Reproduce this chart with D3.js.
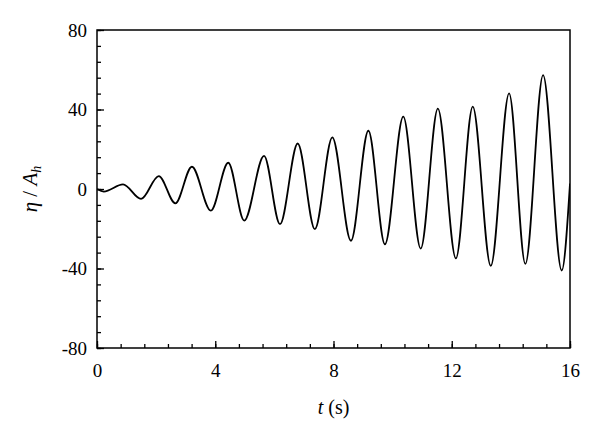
<!DOCTYPE html>
<html>
<head>
<meta charset="utf-8">
<style>
  body { margin: 0; background: #fff; }
  svg text { font-family: "Liberation Serif", "DejaVu Serif", serif; fill: #000; }
</style>
</head>
<body>
<svg id="chart" width="600" height="434"></svg>
<script src="https://cdn.jsdelivr.net/npm/d3@7"></script>
<script>
// extrema of the wave (t in s, eta/A_h)
var times = [0, 0.23, 0.88, 1.49, 2.09, 2.65, 3.21, 3.85, 4.44, 4.98, 5.65, 6.19, 6.79, 7.37,
             7.96, 8.59, 9.18, 9.74, 10.36, 10.95, 11.53, 12.14, 12.71, 13.32, 13.94, 14.49,
             15.09, 15.72, 16];
var etas = [0, -1.3, 2.3, -5, 6.5, -7.2, 11.2, -10.9, 13.2, -15.9, 16.7, -17.7, 22.9, -20.2,
            26, -26, 29.3, -27.8, 36.4, -30, 40.4, -34.9, 41.4, -38.7, 48.1, -37.7,
            57.3, -41, 2.8];
var xTicks = [0, 4, 8, 12, 16];
var yTicks = [-80, -40, 0, 40, 80];

var margin = { left: 97, right: 30, top: 30, bottom: 86 };
var W = 600, H = 434;
var svg = d3.select('#chart');

var x = d3.scaleLinear().domain([0, 16]).range([margin.left, W - margin.right]);
var y = d3.scaleLinear().domain([-80, 80]).range([H - margin.bottom, margin.top]);

var data = times.map(function (t, i) { return { t: t, v: etas[i] }; });

svg.append('clipPath').attr('id', 'clip').append('rect')
    .attr('x', x(0)).attr('y', y(80)).attr('width', x(16) - x(0)).attr('height', y(-80) - y(80));

svg.append('path')
    .datum(data)
    .attr('clip-path', 'url(#clip)')
    .attr('fill', 'none')
    .attr('stroke', '#000')
    .attr('stroke-width', 1.8)
    .attr('d', d3.line()
        .x(function (d) { return x(d.t); })
        .y(function (d) { return y(d.v); })
        .curve(d3.curveMonotoneX));

// minor ticks (inside)
var xAxisMinor = d3.axisBottom(x).tickValues(d3.range(0, 16.01, 0.8)).tickSize(-4).tickFormat('');
var yAxisMinor = d3.axisLeft(y).tickValues(d3.range(-80, 80.01, 8)).tickSize(-4).tickFormat('');
var xAxis = d3.axisBottom(x).tickValues(xTicks).tickSize(-7).tickPadding(16).tickFormat(d3.format('d'));
var yAxis = d3.axisLeft(y).tickValues(yTicks).tickSize(-7).tickPadding(10).tickFormat(function (d) { return String(d); });

[xAxisMinor, xAxis].forEach(function (a) {
    svg.append('g').attr('transform', 'translate(0,' + y(-80) + ')').call(a);
});
[yAxisMinor, yAxis].forEach(function (a) {
    svg.append('g').attr('transform', 'translate(' + x(0) + ',0)').call(a);
});
svg.selectAll('.domain').remove();
svg.selectAll('.tick line').attr('stroke', '#000').attr('stroke-width', 1.3);
svg.selectAll('g').attr('font-family', null);
svg.selectAll('.tick text').style('font-size', '19px');

// frame
svg.append('rect')
    .attr('x', x(0)).attr('y', y(80))
    .attr('width', x(16) - x(0)).attr('height', y(-80) - y(80))
    .attr('fill', 'none').attr('stroke', '#000').attr('stroke-width', 1.5);

// axis titles
var xl = svg.append('text')
    .attr('x', (x(0) + x(16)) / 2).attr('y', 414)
    .attr('text-anchor', 'middle').style('font-size', '20px');
xl.append('tspan').style('font-style', 'italic').text('t');
xl.append('tspan').text(' (s)');

var yl = svg.append('text')
    .attr('transform', 'translate(37,' + ((y(80) + y(-80)) / 2) + ') rotate(-90)')
    .attr('text-anchor', 'middle').style('font-size', '21px');
yl.append('tspan').style('font-style', 'italic').text('\u03b7');
yl.append('tspan').text(' / ');
yl.append('tspan').style('font-style', 'italic').text('A');
yl.append('tspan').style('font-style', 'italic').style('font-size', '14px').attr('dy', 4).text('h');
</script>
</body>
</html>
